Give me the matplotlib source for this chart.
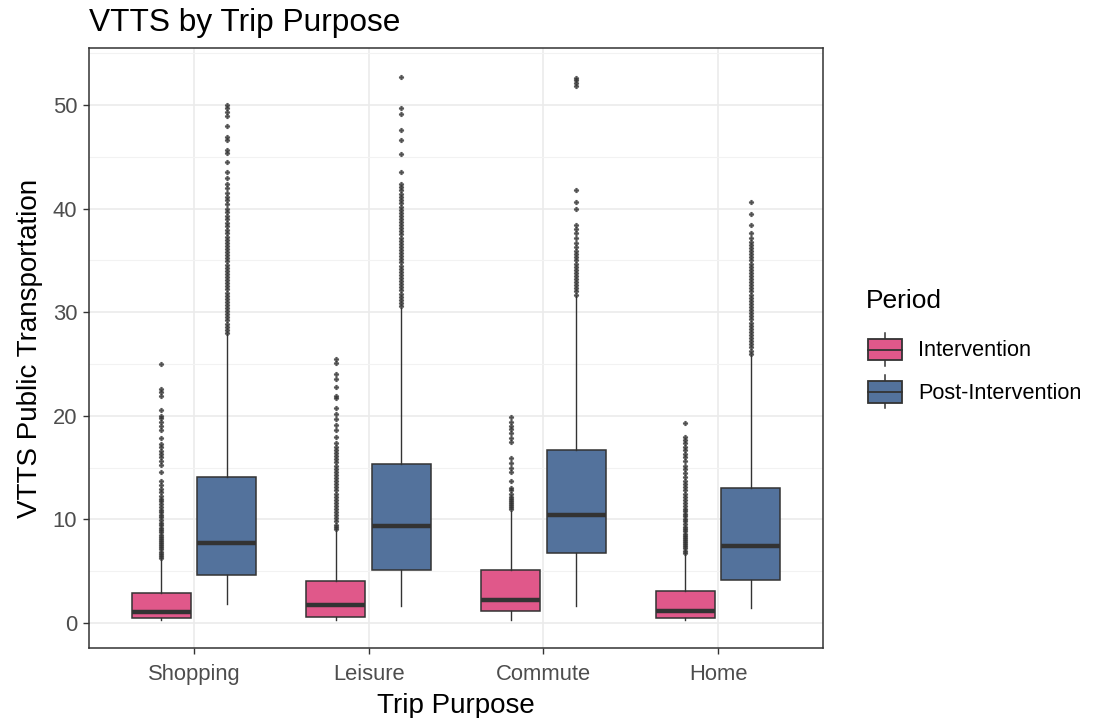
import matplotlib
matplotlib.use("Agg")
import matplotlib.pyplot as plt
from matplotlib.legend_handler import HandlerBase
from matplotlib.patches import Rectangle, Patch
from matplotlib.lines import Line2D

plt.rcParams['font.family'] = ['Liberation Sans', 'DejaVu Sans']

categories = ["Shopping", "Leisure", "Commute", "Home"]
periods = ["Intervention", "Post-Intervention"]
colors = ["#E0588A", "#53729C"]

# box statistics per category: [Shopping, Leisure, Commute, Home]
int_whislo = [0.25, 0.33, 0.25, 0.25]
int_q1 = [0.44, 0.62, 1.16, 0.44]
int_med = [1.09, 1.71, 2.25, 1.20]
int_q3 = [2.87, 4.07, 5.08, 3.05]
int_whishi = [6.2, 9.0, 10.8, 6.7]

post_whislo = [1.82, 1.63, 1.60, 1.45]
post_q1 = [4.61, 5.08, 6.72, 4.14]
post_med = [7.77, 9.40, 10.42, 7.44]
post_q3 = [14.05, 15.32, 16.67, 13.04]
post_whishi = [27.9, 30.4, 31.6, 25.9]

int_out = [
    [6.3, 6.5, 6.7, 6.9, 7.1, 7.3, 7.5, 7.7, 7.9, 8.1, 8.3, 8.5, 8.8, 9.0, 9.2,
     9.5, 9.7, 9.9, 10.2, 10.4, 10.7, 10.9, 11.2, 11.5, 11.8, 12.0, 12.3, 12.6,
     12.9, 13.3, 13.7, 14.6, 15.3, 15.6, 16.0, 16.3, 16.6, 17.0, 17.3, 17.9,
     18.6, 19.0, 19.4, 19.8, 20.0, 20.6, 21.9, 22.3, 22.6, 25.0],
    [9.1, 9.3, 9.5, 9.8, 10.1, 10.4, 10.7, 11.0, 11.3, 11.6, 11.9, 12.2, 12.5,
     12.8, 13.1, 13.4, 13.7, 14.0, 14.3, 14.6, 14.9, 15.2, 15.5, 15.8, 16.1,
     16.4, 16.7, 17.0, 17.4, 18.0, 18.6, 19.1, 19.7, 20.2, 20.8, 21.7, 21.9,
     22.8, 23.6, 24.0, 25.1, 25.5],
    [11.0, 11.2, 11.4, 11.6, 11.8, 12.0, 12.2, 12.5, 12.8, 13.0, 13.7, 14.6,
     15.0, 15.4, 15.9, 17.5, 17.9, 18.3, 18.7, 19.0, 19.4, 19.9],
    [6.8, 7.0, 7.2, 7.4, 7.6, 7.8, 8.0, 8.2, 8.4, 8.6, 8.9, 9.1, 9.3, 9.6,
     9.8, 10.0, 10.3, 10.5, 10.8, 11.0, 11.3, 11.6, 11.9, 12.2, 12.5, 12.8,
     13.1, 13.4, 13.7, 14.1, 14.5, 14.9, 15.2, 15.6, 16.0, 16.3, 16.7, 17.0,
     17.4, 17.7, 18.0, 19.3],
]
post_out = [
    [28.0, 28.3, 28.6, 28.9, 29.2, 29.5, 29.8, 30.1, 30.4, 30.7, 31.0, 31.3,
     31.6, 31.9, 32.2, 32.5, 32.8, 33.1, 33.4, 33.7, 34.0, 34.3, 34.6, 34.9,
     35.2, 35.5, 35.8, 36.1, 36.4, 36.7, 37.0, 37.3, 37.6, 37.9, 38.3, 38.6,
     39.0, 39.3, 39.7, 40.0, 40.4, 40.8, 41.1, 41.5, 42.0, 42.4, 43.0, 43.5,
     44.5, 45.4, 45.7, 46.6, 46.9, 48.0, 48.9, 49.3, 49.7, 50.0],
    [30.6, 30.9, 31.2, 31.5, 31.8, 32.1, 32.4, 32.7, 33.0, 33.3, 33.6, 33.9,
     34.2, 34.5, 34.8, 35.1, 35.4, 35.7, 36.0, 36.3, 36.6, 36.9, 37.2, 37.5,
     37.8, 38.1, 38.4, 38.7, 39.0, 39.3, 39.6, 39.9, 40.2, 40.5, 40.8, 41.1,
     41.4, 41.8, 42.1, 42.4, 43.5, 45.3, 46.6, 47.6, 49.1, 49.7, 52.7],
    [31.7, 32.0, 32.3, 32.6, 32.9, 33.2, 33.5, 33.8, 34.1, 34.4, 34.7, 35.0,
     35.3, 35.6, 35.9, 36.3, 36.7, 37.2, 37.6, 38.0, 38.4, 40.0, 40.6, 41.8,
     51.8, 52.1, 52.4, 52.6],
    [26.0, 26.3, 26.6, 26.9, 27.2, 27.5, 27.8, 28.1, 28.4, 28.7, 29.0, 29.3,
     29.6, 29.9, 30.2, 30.5, 30.8, 31.1, 31.4, 31.7, 32.0, 32.3, 32.6, 32.9,
     33.2, 33.5, 33.8, 34.1, 34.4, 34.7, 35.0, 35.3, 35.6, 35.9, 36.2, 36.5,
     36.8, 37.2, 37.6, 38.4, 39.5, 40.6],
]

edge = "#333333"
fig = plt.figure(figsize=(10.99, 7.18), dpi=100)
ax = fig.add_axes([89 / 1099, 70 / 718, (823 - 89) / 1099, (648 - 48) / 718])

dodge = 0.1875
bw = 0.3375
groups = [
    (int_whislo, int_q1, int_med, int_q3, int_whishi, int_out, -dodge, colors[0]),
    (post_whislo, post_q1, post_med, post_q3, post_whishi, post_out, dodge, colors[1]),
]
for wl, q1, md, q3, wh, outs, off, col in groups:
    stats = []
    for i in range(len(categories)):
        stats.append(dict(whislo=wl[i], q1=q1[i], med=md[i], q3=q3[i],
                          whishi=wh[i], fliers=outs[i]))
    pos = [i + 1 + off for i in range(len(categories))]
    ax.bxp(stats, positions=pos, widths=bw, patch_artist=True, showcaps=False,
           boxprops=dict(facecolor=col, edgecolor=edge, linewidth=1.1),
           medianprops=dict(color=edge, linewidth=3.2, solid_capstyle='butt'),
           whiskerprops=dict(color=edge, linewidth=1.0),
           flierprops=dict(marker='P', markersize=3.4, markerfacecolor=edge,
                           markeredgecolor=edge, markeredgewidth=0.3, alpha=0.85),
           zorder=3)

ax.set_xlim(0.4, 4.6)
ax.set_ylim(-2.41, 55.5)
ax.set_xticks(range(1, len(categories) + 1))
ax.set_xticklabels(categories)
ax.set_yticks([0, 10, 20, 30, 40, 50])
ax.set_yticks([5, 15, 25, 35, 45, 55], minor=True)
ax.tick_params(axis='both', which='major', labelsize=15.8, colors=edge,
               labelcolor="#4D4D4D", length=4.5, width=1.0)
ax.tick_params(axis='x', which='major', pad=7)
ax.tick_params(axis='y', which='major', pad=4)
ax.tick_params(axis='y', which='minor', length=0)
ax.grid(True, which='major', color="#EBEBEB", linewidth=1.2, zorder=0)
ax.grid(True, which='minor', axis='y', color="#F2F2F2", linewidth=0.8, zorder=0)
ax.set_axisbelow(True)
for s in ax.spines.values():
    s.set_color(edge)
    s.set_linewidth(1.1)

ax.set_xlabel("Trip Purpose", fontsize=20, labelpad=6)
ax.set_ylabel("VTTS Public Transportation", fontsize=20, labelpad=7)
ax.set_title("VTTS by Trip Purpose", fontsize=22.8, loc='left', pad=12.5)


class BoxHandler(HandlerBase):
    def create_artists(self, legend, orig_handle, xdescent, ydescent, width,
                       height, fontsize, trans):
        fc = orig_handle.get_facecolor()
        h = height
        bh = h * 0.66
        y0 = -ydescent + (h - bh) / 2
        x0 = -xdescent
        rect = Rectangle((x0, y0), width, bh, facecolor=fc, edgecolor=edge,
                         linewidth=1.3, transform=trans)
        med = Line2D([x0, x0 + width], [y0 + bh / 2] * 2, color=edge,
                     linewidth=1.3, transform=trans)
        cx = x0 + width / 2
        w1 = Line2D([cx, cx], [-ydescent, y0], color=edge, linewidth=1.1,
                    transform=trans)
        w2 = Line2D([cx, cx], [y0 + bh, -ydescent + h], color=edge,
                    linewidth=1.1, transform=trans)
        return [w1, w2, rect, med]


fig.text(866 / 1099, 1 - 301 / 718, "Period", fontsize=19, va='center',
         ha='left')
handles = [Patch(facecolor=c) for c in colors]
leg = fig.legend(handles, periods, handler_map={Patch: BoxHandler()},
                 loc='upper left', bbox_to_anchor=(868 / 1099, 1 - 333 / 718),
                 frameon=False, fontsize=15.6, handlelength=1.55,
                 handleheight=1.97, labelspacing=0.42, handletextpad=0.75,
                 borderaxespad=0, borderpad=0)

fig.savefig("out.png", dpi=100)
